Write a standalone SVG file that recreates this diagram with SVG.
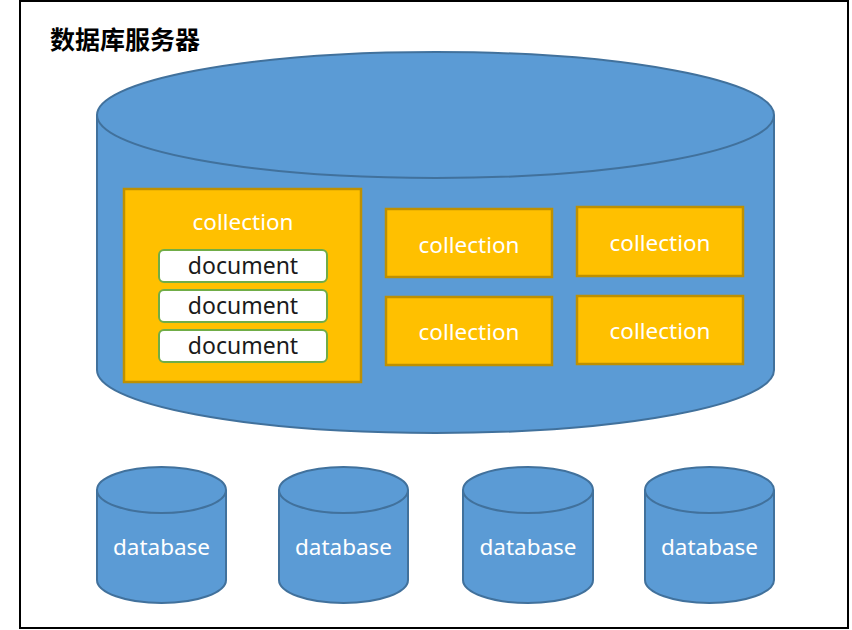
<svg xmlns="http://www.w3.org/2000/svg" width="852" height="630" viewBox="0 0 852 630">
<style>
.cyl{fill:#5B9BD5;stroke:#41719C;stroke-width:2}
.col{fill:#FFC000;stroke:#BF9000;stroke-width:2.5}
.doc{fill:#FFFFFF;stroke:#70AD47;stroke-width:2}
.wt{fill:#FFFFFF;font-family:"Noto Sans","Open Sans",sans-serif;font-size:22.5px;text-anchor:middle}
.bt{fill:#1a1a1a;font-family:"Noto Sans","Open Sans",sans-serif;font-size:23px;text-anchor:middle}
.title{fill:#000;font-family:"Noto Sans CJK SC",sans-serif;font-size:25px;font-weight:bold}
</style>
<rect x="0" y="0" width="852" height="630" fill="#FFFFFF"/>
<rect x="20" y="1" width="828" height="627" fill="none" stroke="#000" stroke-width="2"/>
<text class="title" x="50" y="49">数据库服务器</text>
<g id="server">
<path class="cyl" d="M97,115 L97,370 A338.5,63 0 0 0 774,370 L774,115"/>
<ellipse class="cyl" cx="435.5" cy="115" rx="338.5" ry="63"/>
</g>
<g id="collection1">
<rect class="col" x="124" y="189" width="237" height="193"/>
<text class="wt" x="243" y="230">collection</text>
</g>
<g id="document1">
<rect class="doc" x="159" y="250" width="168" height="32" rx="5"/>
<text class="bt" x="243" y="274">document</text>
</g>
<g id="document2">
<rect class="doc" x="159" y="290" width="168" height="32" rx="5"/>
<text class="bt" x="243" y="314">document</text>
</g>
<g id="document3">
<rect class="doc" x="159" y="330" width="168" height="32" rx="5"/>
<text class="bt" x="243" y="354">document</text>
</g>
<g id="collection2">
<rect class="col" x="386" y="209" width="166" height="68"/>
<text class="wt" x="469" y="253">collection</text>
</g>
<g id="collection3">
<rect class="col" x="386" y="297" width="166" height="68"/>
<text class="wt" x="469" y="340">collection</text>
</g>
<g id="collection4">
<rect class="col" x="577" y="207" width="166" height="69"/>
<text class="wt" x="660" y="251">collection</text>
</g>
<g id="collection5">
<rect class="col" x="577" y="296" width="166" height="68"/>
<text class="wt" x="660" y="339">collection</text>
</g>
<g id="database1">
<path class="cyl" d="M97,490 L97,580 A64.5,23 0 0 0 226,580 L226,490"/>
<ellipse class="cyl" cx="161.5" cy="490" rx="64.5" ry="23"/>
<text class="wt" x="161.5" y="555">database</text>
</g>
<g id="database2">
<path class="cyl" d="M279,490 L279,580 A64.5,23 0 0 0 408,580 L408,490"/>
<ellipse class="cyl" cx="343.5" cy="490" rx="64.5" ry="23"/>
<text class="wt" x="343.5" y="555">database</text>
</g>
<g id="database3">
<path class="cyl" d="M463,490 L463,580 A65,23 0 0 0 593,580 L593,490"/>
<ellipse class="cyl" cx="528" cy="490" rx="65" ry="23"/>
<text class="wt" x="528" y="555">database</text>
</g>
<g id="database4">
<path class="cyl" d="M645,490 L645,580 A64.5,23 0 0 0 774,580 L774,490"/>
<ellipse class="cyl" cx="709.5" cy="490" rx="64.5" ry="23"/>
<text class="wt" x="709.5" y="555">database</text>
</g>
<g id="connectors"/>
</svg>
